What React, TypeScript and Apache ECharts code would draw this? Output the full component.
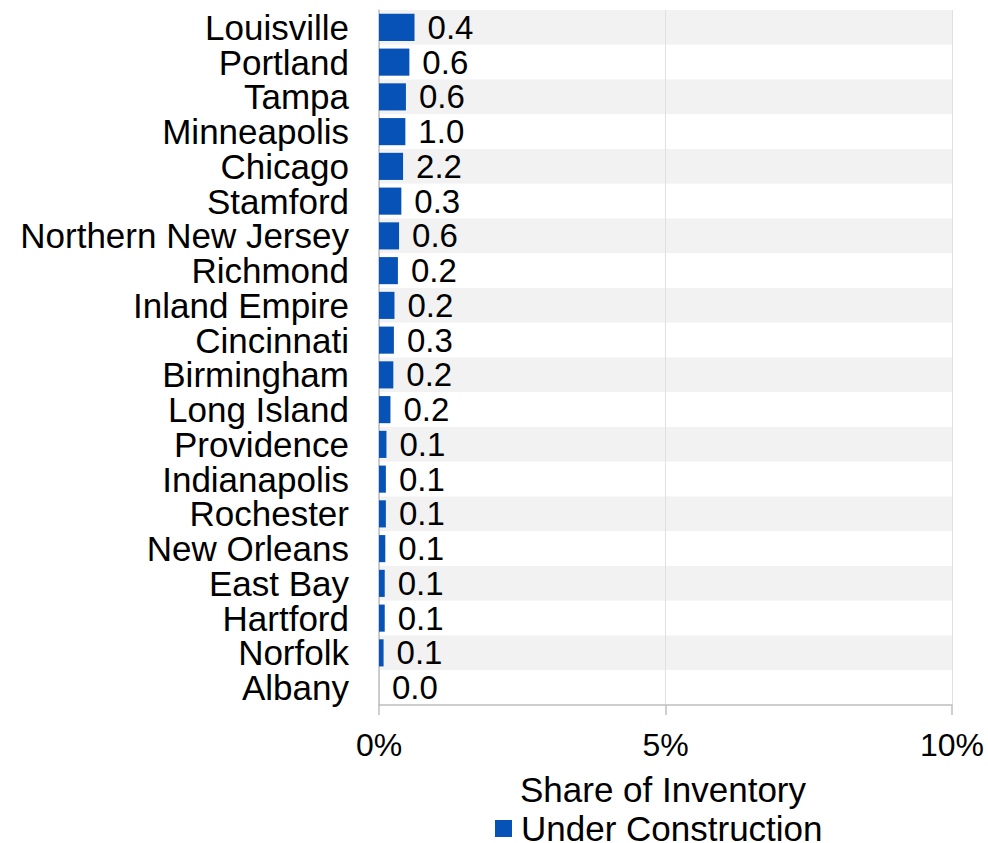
import React, { useEffect, useRef } from "react";
import * as echarts from "echarts";

const categories = [
  "Louisville", "Portland", "Tampa", "Minneapolis", "Chicago", "Stamford",
  "Northern New Jersey", "Richmond", "Inland Empire", "Cincinnati", "Birmingham",
  "Long Island", "Providence", "Indianapolis", "Rochester", "New Orleans",
  "East Bay", "Hartford", "Norfolk", "Albany",
];
// share of inventory under construction (%), bar length
const shareValues = [
  0.62, 0.53, 0.47, 0.46, 0.42, 0.39, 0.35, 0.33, 0.27, 0.26, 0.25, 0.2,
  0.13, 0.12, 0.12, 0.11, 0.1, 0.1, 0.08, 0.0,
];
// labels shown beside bars
const labelValues = [
  "0.4", "0.6", "0.6", "1.0", "2.2", "0.3", "0.6", "0.2", "0.2", "0.3", "0.2",
  "0.2", "0.1", "0.1", "0.1", "0.1", "0.1", "0.1", "0.1", "0.0",
];
const xTicks = { min: 0, max: 10, interval: 5 };
const seriesName = "Under Construction";
const legendTitle = "Share of Inventory";

const FONT = "Liberation Sans, Arial, sans-serif";

export default function App() {
  const ref = useRef<HTMLDivElement>(null);
  useEffect(() => {
    const chart = echarts.init(ref.current!, null, { renderer: "svg" });
    chart.setOption({
      animation: false,
      textStyle: { fontFamily: FONT },
      grid: { left: 379, right: 36, top: 10, bottom: 138, containLabel: false },
      xAxis: {
        type: "value",
        min: xTicks.min,
        max: xTicks.max,
        interval: xTicks.interval,
        axisLine: { show: true, lineStyle: { color: "#bfbfbf", width: 1.5 } },
        axisTick: { show: true, length: 10, lineStyle: { color: "#bfbfbf", width: 1.5 } },
        axisLabel: {
          formatter: "{value}%",
          color: "#000",
          fontSize: 32,
          fontFamily: FONT,
          margin: 24,
        },
        splitLine: { show: true, lineStyle: { color: "#e0e0e0", width: 1 } },
      },
      yAxis: {
        type: "category",
        inverse: true,
        data: categories,
        axisLine: { show: true, lineStyle: { color: "#bfbfbf", width: 1.5 } },
        axisTick: { show: false },
        axisLabel: {
          color: "#000",
          fontSize: 35,
          lineHeight: 33,
          fontFamily: FONT,
          margin: 30,
          interval: 0,
          hideOverlap: false,
        },
        splitArea: { show: true, interval: 0, areaStyle: { color: ["#f2f2f2", "#ffffff"] } },
      },
      legend: {
        data: [seriesName],
        left: 495,
        top: 811,
        padding: 0,
        icon: "rect",
        itemWidth: 17,
        itemHeight: 17,
        textStyle: { color: "#000", fontSize: 35, fontFamily: FONT, padding: [0, 0, 0, 4] },
      },
      graphic: [
        {
          type: "text",
          left: 520,
          top: 772,
          style: { text: legendTitle, fill: "#000", fontSize: 35, fontFamily: FONT },
        },
      ],
      series: [
        {
          name: seriesName,
          type: "bar",
          data: shareValues,
          barCategoryGap: "22%",
          itemStyle: { color: "#0752b6" },
          label: {
            show: true,
            position: "right",
            distance: 13,
            color: "#000",
            fontSize: 33,
            lineHeight: 33,
            fontFamily: FONT,
            formatter: (p: any) => labelValues[p.dataIndex],
          },
        },
      ],
    });
    return () => chart.dispose();
  }, []);
  return (
    <div
      ref={ref}
      style={{ position: "absolute", left: 0, top: 0, width: 988, height: 843 }}
    />
  );
}
